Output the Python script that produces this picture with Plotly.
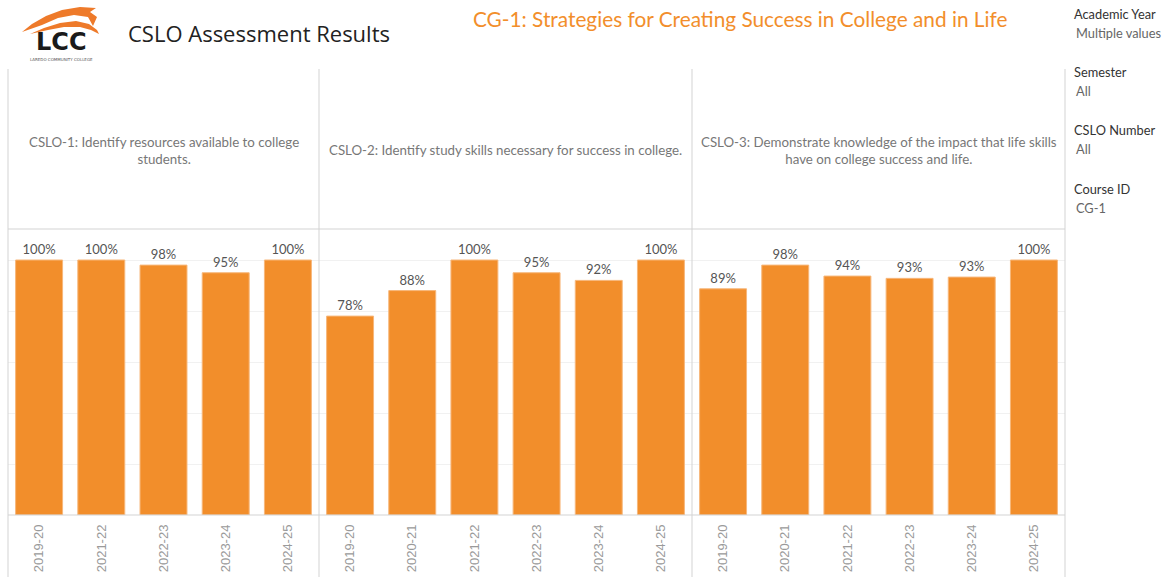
import plotly.graph_objects as go
from plotly.subplots import make_subplots

W, H = 1170, 577

# ---------------- data ----------------
cslo1_years = ["2019-20", "2021-22", "2022-23", "2023-24", "2024-25"]
cslo1_values = [1.00, 1.00, 0.98, 0.95, 1.00]

cslo2_years = ["2019-20", "2020-21", "2021-22", "2022-23", "2023-24", "2024-25"]
cslo2_values = [0.78, 0.88, 1.00, 0.95, 0.92, 1.00]

cslo3_years = ["2019-20", "2020-21", "2021-22", "2022-23", "2023-24", "2024-25"]
cslo3_values = [0.887, 0.98, 0.937, 0.928, 0.933, 1.00]

panel_titles = [
    "CSLO-1: Identify resources available to college<br>students.",
    "CSLO-2: Identify study skills necessary for success in college.",
    "CSLO-3: Demonstrate knowledge of the impact that life skills<br>have on college success and life.",
]

filter_names = ["Academic Year", "Semester", "CSLO Number", "Course ID"]
filter_values = ["Multiple values", "All", "All", "CG-1"]

# ---------------- helpers (screen pixels -> paper) ----------------
def px(x):
    return x / W

def py(y):
    return 1 - y / H

ORANGE = "#F28E2B"
FONT = "Lato"

fig = make_subplots(rows=1, cols=3, column_widths=[5, 6, 6], horizontal_spacing=0)

series = [(cslo1_years, cslo1_values), (cslo2_years, cslo2_values), (cslo3_years, cslo3_values)]
for i, (yrs, vals) in enumerate(series):
    fig.add_trace(
        go.Bar(
            x=yrs, y=vals,
            marker=dict(color=ORANGE, line=dict(color="#F7B77A", width=1)),
            texttemplate="%{y:.0%}", textposition="outside",
            textfont=dict(family=FONT, size=13, color="#555555"),
            cliponaxis=False, showlegend=False, hoverinfo="x+y",
        ),
        row=1, col=i + 1,
    )

edges = [8, 319, 692, 1065]
y_top, y_base = 229, 515
ymax = (y_base - y_top) / 255.0

for i in range(3):
    xa = "xaxis" if i == 0 else f"xaxis{i+1}"
    ya = "yaxis" if i == 0 else f"yaxis{i+1}"
    fig.layout[xa].update(
        domain=[px(edges[i]), px(edges[i + 1])],
        type="category", showgrid=False, zeroline=False,
        showline=False, ticks="", tickangle=-90, ticklabelstandoff=6,
        tickfont=dict(family="Liberation Sans", size=13, color="#9a9a9a"),
        fixedrange=True,
    )
    fig.layout[ya].update(
        domain=[py(y_base), py(y_top)], range=[0, ymax],
        showgrid=True, gridcolor="#f1f1f1", gridwidth=1, dtick=0.2,
        zeroline=False, showticklabels=False, ticks="", fixedrange=True,
    )

shapes = []
line_col = "#d3d3d3"
for x in edges:
    shapes.append(dict(type="line", xref="paper", yref="paper",
                       x0=px(x), x1=px(x), y0=py(69), y1=0,
                       line=dict(color=line_col, width=1)))
for y in [y_top, y_base]:
    shapes.append(dict(type="line", xref="paper", yref="paper",
                       x0=px(edges[0]), x1=px(edges[-1]), y0=py(y), y1=py(y),
                       line=dict(color=line_col, width=1)))

def path(pts):
    return "M " + " L ".join(f"{px(a):.5f},{py(b):.5f}" for a, b in pts) + " Z"

# logo wing (decorative)
swoosh1 = [(22, 32), (32, 24), (46, 16), (62, 10), (80, 7), (96, 8), (90, 12), (97, 17), (93, 26),
           (88, 17), (74, 15), (58, 18), (42, 25)]
swoosh2 = [(30, 34), (44, 28), (60, 23), (76, 21), (89, 24), (97, 30), (99, 34), (91, 30),
           (80, 27), (64, 27), (48, 30)]
for sp in (swoosh1, swoosh2):
    shapes.append(dict(type="path", xref="paper", yref="paper", path=path(sp),
                       fillcolor="#EE7A2A", line=dict(width=0)))
fig.update_layout(shapes=shapes)

ann = []
ann.append(dict(text="<b>LCC</b>", x=px(61), y=py(42), xref="paper", yref="paper",
                showarrow=False, xanchor="center", yanchor="middle", borderpad=0,
                font=dict(family="DejaVu Sans", size=24, color="#1a1a1a")))
ann.append(dict(text="LAREDO COMMUNITY COLLEGE", x=px(61), y=py(59), xref="paper", yref="paper",
                showarrow=False, xanchor="center", yanchor="middle", borderpad=0,
                font=dict(family="DejaVu Sans", size=4, color="#555555")))
ann.append(dict(text="CSLO Assessment Results", x=px(126), y=py(33), xref="paper", yref="paper",
                showarrow=False, xanchor="left", yanchor="middle",
                font=dict(family="Open Sans", size=22, color="#222222")))
ann.append(dict(text="CG-1: Strategies for Creating Success in College and in Life", x=px(740), y=py(19),
                xref="paper", yref="paper", showarrow=False, xanchor="center", yanchor="middle",
                borderpad=0, font=dict(family=FONT, size=20.8, color=ORANGE)))
for i, t in enumerate(panel_titles):
    cx = (edges[i] + edges[i + 1]) / 2
    ann.append(dict(text=t, x=px(cx), y=py(150), xref="paper", yref="paper",
                    showarrow=False, xanchor="center", yanchor="middle", align="center",
                    font=dict(family=FONT, size=13.3, color="#777777")))
fy = [14, 72, 130, 189]
for name, val, y in zip(filter_names, filter_values, fy):
    ann.append(dict(text=name, x=px(1073), y=py(y), xref="paper", yref="paper",
                    showarrow=False, xanchor="left", yanchor="middle", borderpad=0,
                    font=dict(family=FONT, size=12.8, color="#333333")))
    ann.append(dict(text=val, x=px(1075), y=py(y + 19), xref="paper", yref="paper",
                    showarrow=False, xanchor="left", yanchor="middle", borderpad=0,
                    font=dict(family=FONT, size=12.8, color="#666666")))

fig.update_layout(
    annotations=ann,
    width=W, height=H,
    margin=dict(l=0, r=0, t=0, b=0),
    paper_bgcolor="white", plot_bgcolor="white",
    bargap=0.245,
    font=dict(family=FONT),
)

# remove the page's default body margin so the figure fills the window exactly
fig.write_html("out.html",
               config={"displayModeBar": False},
               post_script="document.body.style.margin='0';document.body.style.overflow='hidden';")
